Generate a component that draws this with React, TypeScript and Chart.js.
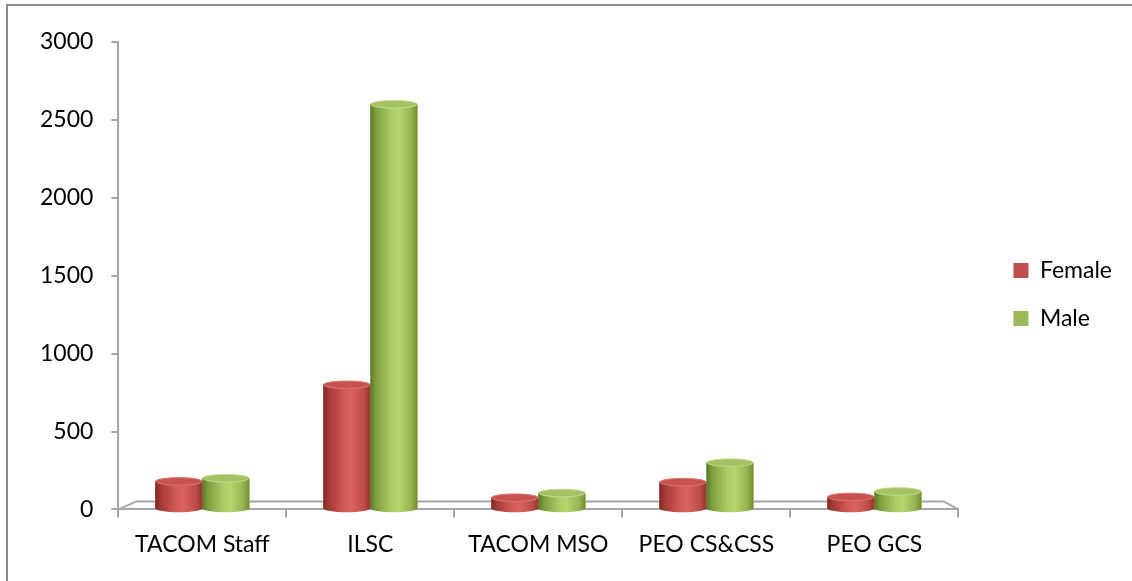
import React, { useEffect, useRef } from "react";
import { Chart, registerables } from "chart.js";

Chart.register(...registerables);

const categories = ["TACOM Staff", "ILSC", "TACOM MSO", "PEO CS&CSS", "PEO GCS"];
const femaleValues = [180, 800, 75, 175, 80];
const maleValues = [200, 2600, 105, 300, 115];
const yTicks = [0, 500, 1000, 1500, 2000, 2500, 3000];
const seriesNames = ["Female", "Male"];
const seriesColors = ["#c0504d", "#9bbb59"];

const FONT = "Lato, 'Open Sans', sans-serif";
const AXIS_GREY = "#a6a6a6";

const palettes = [
  {
    stops: ["#7e2624", "#a53a37", "#d35a56", "#da625e", "#c04d4a", "#96322f"],
    cap: "#c9524f",
    rim: "#d97a77",
  },
  {
    stops: ["#5a7626", "#7f9e3f", "#aecd68", "#b5d46f", "#98b854", "#708f34"],
    cap: "#a4c262",
    rim: "#c3dc8c",
  },
];

const cylinderPlugin = {
  id: "cylinders",
  afterDatasetsDraw(chart: any) {
    const ctx = chart.ctx as CanvasRenderingContext2D;
    chart.data.datasets.forEach((_ds: any, di: number) => {
      const meta = chart.getDatasetMeta(di);
      const pal = palettes[di];
      meta.data.forEach((bar: any) => {
        const { x, y, base, width } = bar.getProps(["x", "y", "base", "width"], true);
        const rx = width / 2;
        const ry = Math.max(3, width * 0.08);
        const l = x - rx;
        const r = x + rx;
        const g = ctx.createLinearGradient(l, 0, r, 0);
        const pos = [0, 0.12, 0.45, 0.6, 0.85, 1];
        pal.stops.forEach((c, i) => g.addColorStop(pos[i], c));
        ctx.save();
        ctx.beginPath();
        ctx.moveTo(l, y);
        ctx.lineTo(l, base);
        ctx.ellipse(x, base, rx, ry, 0, Math.PI, 0, true);
        ctx.lineTo(r, y);
        ctx.ellipse(x, y, rx, ry, 0, 0, Math.PI, true);
        ctx.closePath();
        ctx.fillStyle = g;
        ctx.fill();
        ctx.beginPath();
        ctx.ellipse(x, y, rx - 0.5, ry, 0, 0, Math.PI * 2);
        ctx.fillStyle = pal.cap;
        ctx.fill();
        ctx.lineWidth = 1;
        ctx.strokeStyle = pal.rim;
        ctx.stroke();
        ctx.restore();
      });
    });
  },
};

const floorPlugin = {
  id: "floor",
  beforeDatasetsDraw(chart: any) {
    const { ctx, chartArea } = chart;
    const { left, right, bottom } = chartArea;
    ctx.save();
    ctx.strokeStyle = AXIS_GREY;
    ctx.lineWidth = 2;
    ctx.beginPath();
    ctx.moveTo(left, bottom);
    ctx.lineTo(left + 18, bottom - 8);
    ctx.lineTo(right - 15, bottom - 8);
    ctx.lineTo(right, bottom);
    ctx.stroke();
    ctx.restore();
  },
};

const framePlugin = {
  id: "frame",
  afterDraw(chart: any) {
    const ctx = chart.ctx as CanvasRenderingContext2D;
    ctx.save();
    ctx.strokeStyle = "#8c8c8c";
    ctx.lineWidth = 2;
    ctx.beginPath();
    ctx.moveTo(7, chart.height + 5);
    ctx.lineTo(7, 5);
    ctx.lineTo(chart.width + 5, 5);
    ctx.stroke();
    ctx.restore();
  },
};

export default function App() {
  const ref = useRef<HTMLCanvasElement | null>(null);

  useEffect(() => {
    if (!ref.current) return;
    const chart = new Chart(ref.current, {
      type: "bar",
      data: {
        labels: categories,
        datasets: [
          {
            label: seriesNames[0],
            data: femaleValues,
            backgroundColor: seriesColors[0],
            borderWidth: 0,
            barPercentage: 1,
            categoryPercentage: 0.56,
          },
          {
            label: seriesNames[1],
            data: maleValues,
            backgroundColor: seriesColors[1],
            borderWidth: 0,
            barPercentage: 1,
            categoryPercentage: 0.56,
          },
        ],
      },
      options: {
        responsive: false,
        animation: false,
        layout: { padding: { left: 22, top: 42, right: 10, bottom: 10 } },
        plugins: {
          tooltip: { enabled: false },
          legend: {
            position: "right",
            align: "start",
            title: {
              display: true,
              text: "",
              font: { size: 10 },
              padding: { top: 180, bottom: 0 },
            },
            labels: {
              boxWidth: 15,
              boxHeight: 15,
              padding: 25,
              color: "#000",
              font: { family: FONT, size: 23 },
            },
          },
        },
        scales: {
          x: {
            offset: true,
            grid: {
              offset: true,
              drawOnChartArea: false,
              tickLength: 8,
              color: AXIS_GREY,
              lineWidth: 2,
            },
            border: { color: AXIS_GREY, width: 2 },
            ticks: {
              color: "#000",
              font: { family: FONT, size: 23 },
              padding: 13,
              maxRotation: 0,
              autoSkip: false,
            },
          },
          y: {
            min: 0,
            max: 3000,
            afterBuildTicks: (s: any) => {
              s.ticks = yTicks.map((v) => ({ value: v }));
            },
            grid: {
              drawOnChartArea: false,
              tickLength: 7,
              color: AXIS_GREY,
              lineWidth: 2,
            },
            border: { color: AXIS_GREY, width: 2 },
            ticks: {
              color: "#000",
              font: { family: FONT, size: 23 },
              padding: 18,
              callback: (v: any) => String(v),
            },
          },
          y2: {
            position: "right",
            display: true,
            grid: { display: false },
            border: { display: false },
            ticks: { display: false },
            afterFit: (s: any) => {
              s.width = 30;
            },
          },
        },
      },
      plugins: [floorPlugin, cylinderPlugin, framePlugin],
    });
    return () => chart.destroy();
  }, []);

  return (
    <div style={{ position: "absolute", left: 0, top: 0, width: 1132, height: 581, background: "#fff" }}>
      <canvas ref={ref} width={1132} height={581} style={{ display: "block" }} />
    </div>
  );
}
